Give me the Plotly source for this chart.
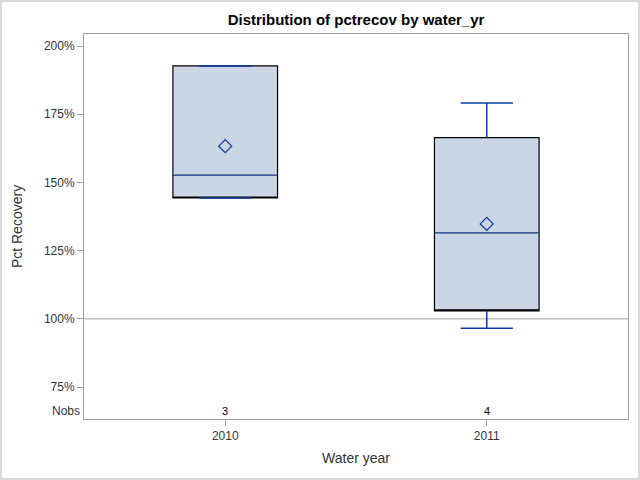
import plotly.graph_objects as go

# Data
years = ["2010", "2011"]
nobs = [3, 4]
q1 = [144.3, 102.9]
median = [152.7, 131.5]
q3 = [192.7, 166.4]
lower = [144.3, 96.6]
upper = [192.7, 179.1]
mean = [163.3, 134.8]
y_ticks = [75, 100, 125, 150, 175, 200]
ref_value = 100

FILL = "#CAD5E6"
BLUE = "#0A3CA3"
FRAME = "#9A9EA4"
TXT = "#333333"
FONT = "Liberation Sans, Arial, sans-serif"

pos = list(range(len(years)))
box_half = 0.2
cap_half = 0.1

fig = go.Figure()

# reference line at 100%
fig.add_shape(type="line", xref="paper", x0=0, x1=1, yref="y",
              y0=ref_value, y1=ref_value, line=dict(color="#A3A3A3", width=1),
              layer="below")

# boxes (black outline, no whiskers)
fig.add_trace(go.Box(
    x=pos, q1=q1, median=q1, q3=q3, lowerfence=q1, upperfence=q3,
    width=2 * box_half, fillcolor=FILL, line=dict(color="black", width=1.2),
    whiskerwidth=0, boxpoints=False, hoverinfo="skip", showlegend=False))

# whiskers, caps and median in blue
wx, wy = [], []
for i in pos:
    wx += [i, i, None, i, i, None]
    wy += [q3[i], upper[i], None, q1[i], lower[i], None]
    wx += [i - cap_half, i + cap_half, None, i - cap_half, i + cap_half, None]
    wy += [upper[i], upper[i], None, lower[i], lower[i], None]
fig.add_trace(go.Scatter(x=wx, y=wy, mode="lines",
                         line=dict(color=BLUE, width=1.5),
                         hoverinfo="skip", showlegend=False))
mx, my = [], []
for i in pos:
    mx += [i - box_half, i + box_half, None]
    my += [median[i], median[i], None]
fig.add_trace(go.Scatter(x=mx, y=my, mode="lines",
                         line=dict(color="#10337F", width=1.2),
                         hoverinfo="skip", showlegend=False))

# mean markers
fig.add_trace(go.Scatter(x=pos, y=mean, mode="markers",
                         marker=dict(symbol="diamond-open", size=10,
                                     color=BLUE, line=dict(width=1.3, color=BLUE)),
                         showlegend=False))

# Nobs row
for i in pos:
    fig.add_annotation(x=i, xref="x", y=0.022, yref="paper", text=str(nobs[i]),
                       showarrow=False, font=dict(size=11, color="black", family=FONT),
                       yanchor="middle")
fig.add_annotation(x=0, xref="paper", xanchor="right", xshift=-2, y=0.022, yref="paper",
                   text="Nobs", showarrow=False,
                   font=dict(size=12, color=TXT, family=FONT), yanchor="middle")

# outer border of the image
L, R, T, B = 84, 12, 34, 61
W, H = 640, 480
pw, ph = W - L - R, H - T - B
fig.add_shape(type="rect", xref="paper", yref="paper",
              x0=-(L - 1) / pw, x1=1 + (R - 1) / pw,
              y0=-(B - 1) / ph, y1=1 + (T - 1) / ph,
              line=dict(color="#D0D0D0", width=1.5), fillcolor="rgba(0,0,0,0)")

fig.update_layout(
    width=W, height=H,
    margin=dict(l=L, r=R, t=T, b=B, autoexpand=False),
    paper_bgcolor="white", plot_bgcolor="white",
    font=dict(family=FONT, size=12, color=TXT),
    title=dict(text="<b>Distribution of pctrecov by water_yr</b>",
               x=(L + pw / 2) / W, xanchor="center", y=1 - 20 / H, yanchor="middle",
               font=dict(size=15, color="black", family=FONT)),
    xaxis=dict(range=[-0.54, 1.54], tickvals=pos, ticktext=years, automargin=False,
               showgrid=False, zeroline=False, showline=True, linecolor=FRAME,
               linewidth=1, mirror=True, ticks="outside", ticklen=6,
               tickcolor=FRAME, title=dict(text="Water year", standoff=10),
               tickfont=dict(size=12, color=TXT)),
    yaxis=dict(range=[63.3, 204.4], tickvals=y_ticks, automargin=False,
               ticktext=[f"{v}%" for v in y_ticks],
               showgrid=False, zeroline=False, showline=True, linecolor=FRAME,
               linewidth=1, mirror=True, ticks="outside", ticklen=6,
               tickcolor=FRAME, title=dict(text="Pct Recovery", standoff=17),
               tickfont=dict(size=12, color=TXT)),
)

fig.write_html("out.html", config={"displayModeBar": False},
               post_script="document.body.style.margin='0';document.body.style.overflow='hidden';")
